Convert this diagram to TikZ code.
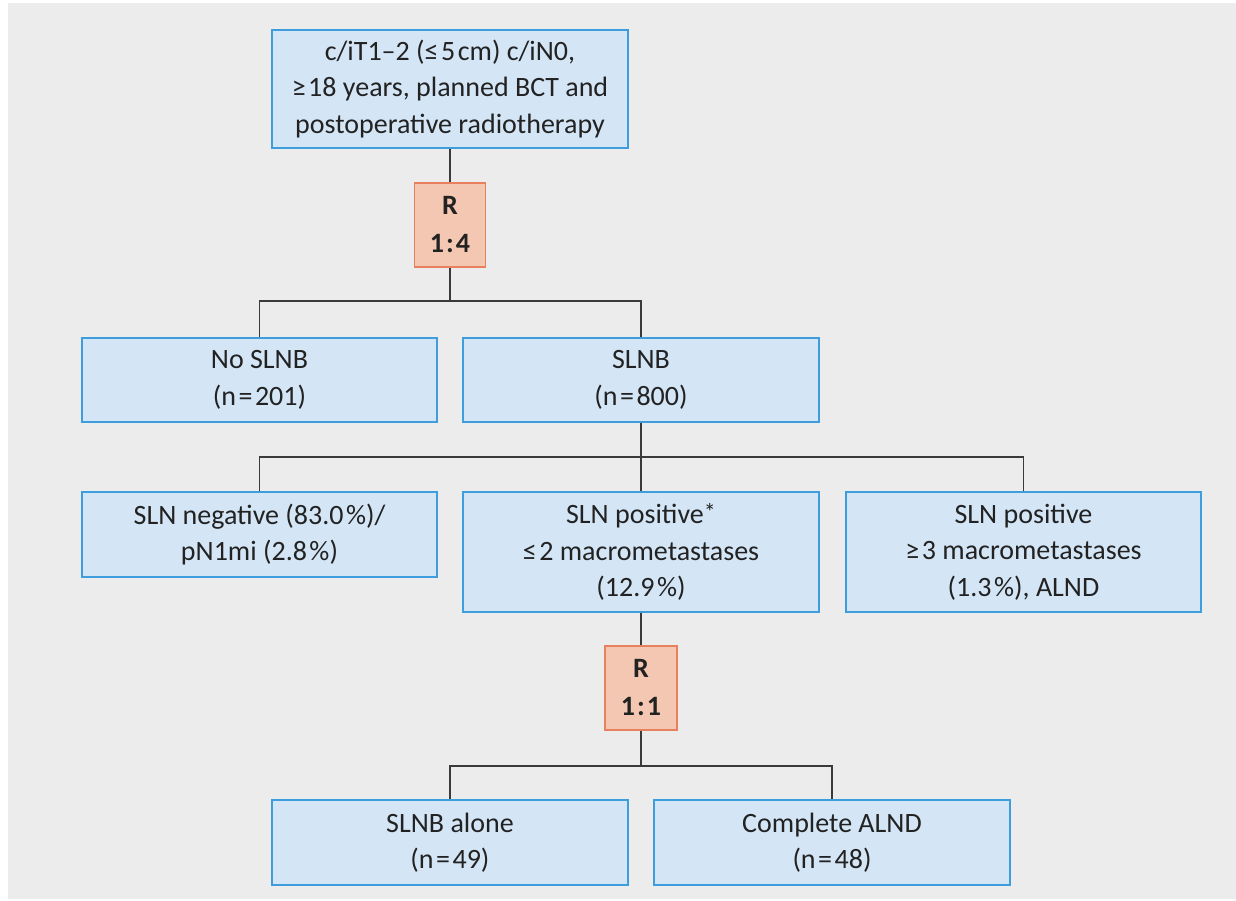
\documentclass[tikz,border=0pt]{standalone}
\usepackage{fontspec}
\setmainfont{Carlito}
\definecolor{bg}{HTML}{EBECEB}
\definecolor{boxfill}{HTML}{D4E6F6}
\definecolor{boxline}{HTML}{3E9EDD}
\definecolor{rfill}{HTML}{F3C7B1}
\definecolor{rline}{HTML}{E8805E}
\definecolor{txt}{HTML}{222222}
\definecolor{conn}{HTML}{3A3A3A}
\newcommand{\tsp}{\kern2.5pt}
\tikzset{
  flowbox/.style={draw=boxline, fill=boxfill, line width=1.8pt, inner sep=0pt,
    align=center, text=txt, font=\fontsize{28}{36.5}\selectfont},
  randbox/.style={draw=rline, fill=rfill, line width=1.8pt, inner sep=0pt,
    align=center, text=txt, minimum width=71pt, minimum height=84pt,
    font=\fontsize{28}{38}\selectfont\bfseries},
  connector/.style={draw=conn, line width=1.6pt}
}
\begin{document}
\begin{tikzpicture}[x=1pt,y=-1pt]
\useasboundingbox (0,0) rectangle (1236,900);
\fill[white] (0,0) rectangle (1236,900);
\fill[bg] (8,3) rectangle (1236,899);

\node[flowbox, minimum width=356pt, minimum height=118pt] (top) at (450,89)
  {c/iT1–2 (≤\tsp5\tsp cm) c/iN0,\\ ≥\tsp18 years, planned BCT and\\ postoperative radiotherapy};
\node[randbox] (r1) at (450,225) {R\\1\kern2pt:\kern2pt4};
\node[flowbox, minimum width=355pt, minimum height=84pt] (nos) at (259.5,380) {No SLNB\\(n\tsp=\tsp201)};
\node[flowbox, minimum width=356pt, minimum height=84pt] (slnb) at (641,380) {SLNB\\(n\tsp=\tsp800)};
\node[flowbox, minimum width=355pt, minimum height=85pt] (neg) at (259.5,534.5) {SLN negative (83.0\tsp\%)/\\pN1mi (2.8\tsp\%)};
\node[flowbox, minimum width=356pt, minimum height=120pt] (pos) at (641,552)
  {SLN positive{\fontsize{24}{24}\selectfont\raisebox{3pt}{*}}\\≤\tsp2 macrometastases\\(12.9\tsp\%)};
\node[flowbox, minimum width=355pt, minimum height=120pt] (pos3) at (1023.5,552)
  {SLN positive\\≥\tsp3 macrometastases\\(1.3\tsp\%), ALND};
\node[randbox, minimum width=72pt] (r2) at (641,688) {R\\1\kern2pt:\kern2pt1};
\node[flowbox, minimum width=356pt, minimum height=85pt] (alone) at (450,842.5) {SLNB alone\\(n\tsp=\tsp49)};
\node[flowbox, minimum width=356pt, minimum height=85pt] (alnd) at (832,842.5) {Complete ALND\\(n\tsp=\tsp48)};

\coordinate (j1) at (450,301);
\coordinate (j2) at (641,457);
\coordinate (j3) at (641,766);

\draw[connector] (top.south) -- (r1.north);
\draw[connector] (r1.south) -- (j1);
\draw[connector] (nos.north) |- (j1) -| (slnb.north);
\draw[connector] (slnb.south) -- (j2);
\draw[connector] (neg.north) |- (j2) -| (pos3.north);
\draw[connector] (j2) -- (pos.north);
\draw[connector] (pos.south) -- (r2.north);
\draw[connector] (r2.south) -- (j3);
\draw[connector] (alone.north) |- (j3) -| (alnd.north);
\end{tikzpicture}
\end{document}
